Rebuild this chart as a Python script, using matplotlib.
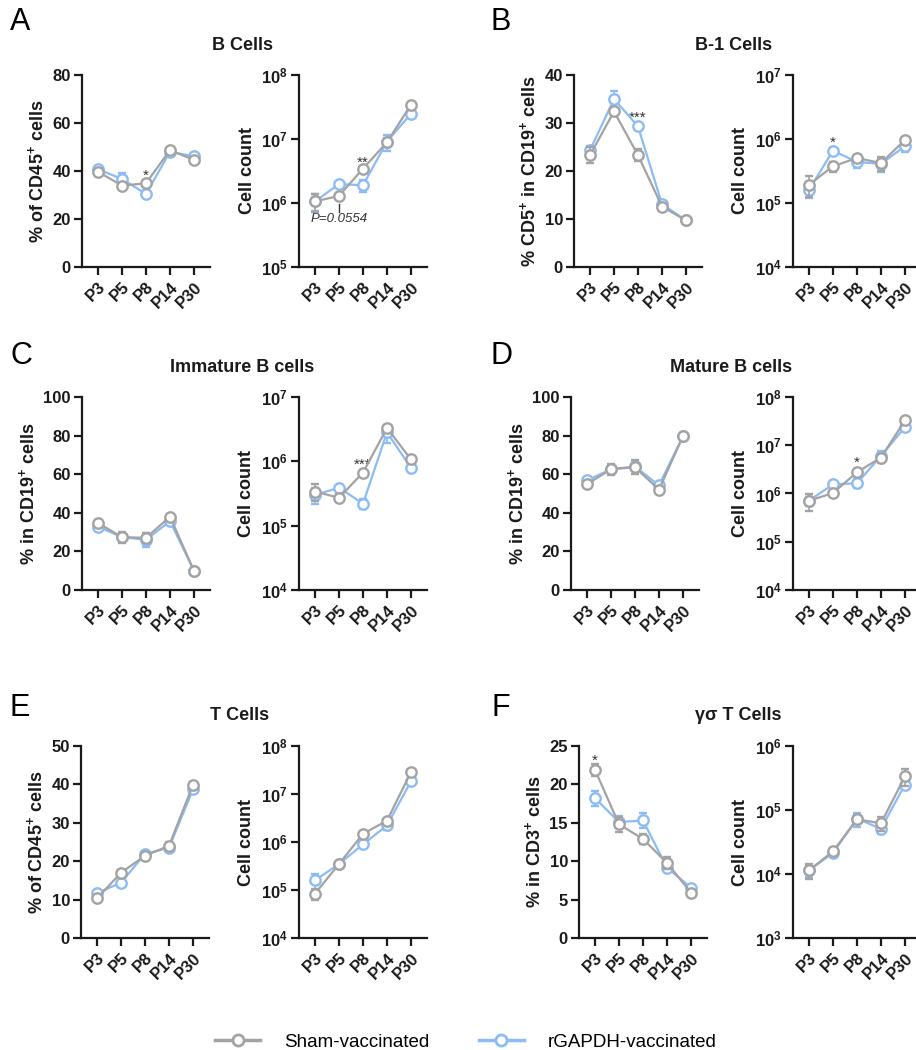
import numpy as np
import matplotlib
matplotlib.use("Agg")
import matplotlib.pyplot as plt
from matplotlib.lines import Line2D
from matplotlib.ticker import NullLocator

plt.rcParams['font.family'] = ['Liberation Sans', 'DejaVu Sans']
plt.rcParams['mathtext.fontset'] = 'custom'
plt.rcParams['mathtext.rm'] = 'Liberation Sans'
plt.rcParams['mathtext.bf'] = 'Liberation Sans:bold'
plt.rcParams['mathtext.it'] = 'Liberation Sans:italic'

days = ['P3', 'P5', 'P8', 'P14', 'P30']

# panel A - B cells
a_pct_sham = [39.7, 33.9, 34.9, 48.7, 44.6]
a_pct_sham_err = [0.8, 0.8, 0.8, 0.8, 0.8]
a_pct_gapdh = [40.7, 36.7, 30.4, 48.0, 46.1]
a_pct_gapdh_err = [0.8, 2.5, 1.8, 1.0, 0.8]
a_cnt_sham = [1.06e6, 1.29e6, 3.44e6, 8.9e6, 3.44e7]
a_cnt_sham_err = [0.34e6, 0.15e6, 0.4e6, 1.5e6, 2e6]
a_cnt_gapdh = [1.06e6, 1.98e6, 1.89e6, 9.1e6, 2.49e7]
a_cnt_gapdh_err = [0.3e6, 0.15e6, 0.4e6, 2.5e6, 1.5e6]

# panel B - B-1 cells
b_pct_sham = [23.3, 32.4, 23.3, 12.6, 9.7]
b_pct_sham_err = [1.6, 0.6, 1.2, 0.4, 0.3]
b_pct_gapdh = [24.3, 35.0, 29.3, 13.1, 9.7]
b_pct_gapdh_err = [0.9, 1.7, 0.5, 0.4, 0.3]
b_cnt_sham = [1.93e5, 3.74e5, 5.05e5, 4.2e5, 9.7e5]
b_cnt_sham_err = [0.7e5, 0.7e5, 0.5e5, 1.0e5, 0.8e5]
b_cnt_gapdh = [1.61e5, 6.58e5, 4.37e5, 4.1e5, 7.7e5]
b_cnt_gapdh_err = [0.4e5, 0.6e5, 0.8e5, 1.0e5, 1.5e5]

# panel C - immature B cells
c_pct_sham = [34.7, 27.4, 27.0, 38.0, 9.9]
c_pct_sham_err = [0.8, 2.8, 2.5, 0.8, 0.4]
c_pct_gapdh = [32.8, 27.4, 26.0, 35.7, 9.9]
c_pct_gapdh_err = [0.8, 1.5, 3.6, 1.0, 0.4]
c_cnt_sham = [3.38e5, 2.72e5, 6.68e5, 3.29e6, 1.07e6]
c_cnt_sham_err = [1.0e5, 0.4e5, 0.6e5, 0.3e6, 0.1e6]
c_cnt_gapdh = [3.0e5, 3.9e5, 2.2e5, 2.82e6, 7.9e5]
c_cnt_gapdh_err = [0.8e5, 0.4e5, 0.4e5, 0.9e6, 0.8e5]

# panel D - mature B cells
d_pct_sham = [54.8, 62.6, 63.6, 52.0, 79.7]
d_pct_sham_err = [0.8, 2.8, 3.5, 0.8, 0.4]
d_pct_gapdh = [56.8, 62.6, 64.0, 54.2, 79.7]
d_pct_gapdh_err = [0.8, 1.5, 2.5, 1.0, 0.4]
d_cnt_sham = [7.1e5, 1.02e6, 2.76e6, 5.56e6, 3.27e7]
d_cnt_sham_err = [2.7e5, 0.1e6, 0.3e6, 0.8e6, 2e6]
d_cnt_gapdh = [7.1e5, 1.55e6, 1.63e6, 6.0e6, 2.38e7]
d_cnt_gapdh_err = [1.5e5, 0.15e6, 0.33e6, 1.7e6, 1.5e6]

# panel E - T cells
e_pct_sham = [10.3, 17.0, 21.4, 24.0, 39.9]
e_pct_sham_err = [0.5, 0.6, 0.5, 1.0, 0.6]
e_pct_gapdh = [11.7, 14.4, 21.9, 23.5, 38.7]
e_pct_gapdh_err = [0.5, 0.6, 0.5, 0.6, 0.6]
e_cnt_sham = [8.4e4, 3.48e5, 1.48e6, 2.78e6, 2.87e7]
e_cnt_sham_err = [2.3e4, 0.3e5, 0.1e6, 0.3e6, 2e6]
e_cnt_gapdh = [1.59e5, 3.48e5, 8.9e5, 2.22e6, 1.84e7]
e_cnt_gapdh_err = [0.6e5, 0.3e5, 1.0e5, 0.47e6, 1.5e6]

# panel F - gamma delta T cells
f_pct_sham = [21.9, 14.8, 12.9, 9.77, 5.9]
f_pct_sham_err = [0.75, 1.0, 0.6, 0.8, 0.3]
f_pct_gapdh = [18.2, 15.1, 15.3, 9.16, 6.55]
f_pct_gapdh_err = [1.0, 0.8, 1.0, 0.5, 0.3]
f_cnt_sham = [1.14e4, 2.26e4, 7.15e4, 6.2e4, 3.36e5]
f_cnt_sham_err = [3.1e3, 3e3, 1.2e4, 1.5e4, 1.0e5]
f_cnt_gapdh = [1.14e4, 2.13e4, 7.3e4, 5.1e4, 2.5e5]
f_cnt_gapdh_err = [2.5e3, 2e3, 1.8e4, 0.9e4, 0.4e5]

GRAY = '#a3a3a3'
BLUE = '#8bbcf5'
TXT = '#1a1a1a'

W, H = 916, 1050
fig = plt.figure(figsize=(W / 100, H / 100), dpi=100)


def px_ax(left, top, bottom, width=128):
    return fig.add_axes([left / W, 1 - bottom / H, width / W, (bottom - top) / H])


def draw(ax, sham, sham_err, gapdh, gapdh_err, log=False, lim=None, ticks=None, ylabel=''):
    x = np.arange(len(days))
    ax.errorbar(x, gapdh, yerr=gapdh_err, color=BLUE, lw=1.6, marker='o', ms=7.5,
                mfc='white', mec=BLUE, mew=1.7, capsize=3, elinewidth=1.2, capthick=1.2, zorder=3)
    ax.errorbar(x, sham, yerr=sham_err, color=GRAY, lw=1.6, marker='o', ms=7.5,
                mfc='white', mec=GRAY, mew=1.7, capsize=3, elinewidth=1.2, capthick=1.2, zorder=4)
    ax.set_xlim(-0.667, 4.667)
    if log:
        ax.set_yscale('log')
        ax.set_ylim(lim)
        ax.set_yticks(ticks)
        ax.set_yticklabels([r'$\mathbf{10^{%d}}$' % round(np.log10(t)) for t in ticks])
        ax.yaxis.set_minor_locator(NullLocator())
    else:
        ax.set_ylim(lim)
        ax.set_yticks(ticks)
        ax.set_yticklabels([str(t) for t in ticks])
    ax.set_xticks(x)
    ax.set_xticklabels(days, rotation=45, ha='right', va='top', rotation_mode='anchor')
    for s in ['top', 'right']:
        ax.spines[s].set_visible(False)
    for s in ['left', 'bottom']:
        ax.spines[s].set_linewidth(1.6)
        ax.spines[s].set_color(TXT)
    ax.tick_params(axis='both', length=6, width=1.6, color=TXT, labelcolor=TXT, labelsize=12)
    ax.tick_params(axis='y', pad=2)
    ax.tick_params(axis='x', pad=3)
    for lbl in ax.get_xticklabels() + ax.get_yticklabels():
        lbl.set_fontweight('bold')
    ax.set_ylabel(ylabel, fontsize=13, fontweight='bold', color=TXT, labelpad=4)


def star(ax, xi, y, s):
    ax.annotate(s, (xi, y), xytext=(0, -3), textcoords='offset points',
                ha='center', va='center', fontsize=11, color='#333333')


rows = [(75, 267), (397, 590), (746, 938)]
lefts = [(82, 299, 574, 793), (82, 299, 571, 793), (81, 299, 579, 793)]

pct_lbl_a = r'% of CD45$^{\mathbf{+}}$ cells'
cnt_lbl = 'Cell count'

# row 1
t, b = rows[0]
ax = px_ax(lefts[0][0], t, b)
draw(ax, a_pct_sham, a_pct_sham_err, a_pct_gapdh, a_pct_gapdh_err, lim=(0, 80), ticks=[0, 20, 40, 60, 80], ylabel=pct_lbl_a)
star(ax, 2, 39.9, '*')
ax = px_ax(lefts[0][1], t, b)
draw(ax, a_cnt_sham, a_cnt_sham_err, a_cnt_gapdh, a_cnt_gapdh_err, log=True, lim=(1e5, 1e8), ticks=[1e5, 1e6, 1e7, 1e8], ylabel=cnt_lbl)
star(ax, 2, 10 ** 6.70, '**')
ax.plot([1, 1], [10 ** 5.854, 10 ** 5.99], color='#333333', lw=1)
ax.text(1, 10 ** 5.75, 'P=0.0554', ha='center', va='center', fontsize=9.5, style='italic', color='#333333')

ax = px_ax(lefts[0][2], t, b)
draw(ax, b_pct_sham, b_pct_sham_err, b_pct_gapdh, b_pct_gapdh_err, lim=(0, 40), ticks=[0, 10, 20, 30, 40],
     ylabel=r'% CD5$^{\mathbf{+}}$ in CD19$^{\mathbf{+}}$ cells')
star(ax, 2, 31.9, '***')
ax = px_ax(lefts[0][3], t, b)
draw(ax, b_cnt_sham, b_cnt_sham_err, b_cnt_gapdh, b_cnt_gapdh_err, log=True, lim=(1e4, 1e7), ticks=[1e4, 1e5, 1e6, 1e7], ylabel=cnt_lbl)
star(ax, 1, 10 ** 6.01, '*')

# row 2
t, b = rows[1]
ax = px_ax(lefts[1][0], t, b)
draw(ax, c_pct_sham, c_pct_sham_err, c_pct_gapdh, c_pct_gapdh_err, lim=(0, 100), ticks=[0, 20, 40, 60, 80, 100],
     ylabel=r'% in CD19$^{\mathbf{+}}$ cells')
ax = px_ax(lefts[1][1], t, b)
draw(ax, c_cnt_sham, c_cnt_sham_err, c_cnt_gapdh, c_cnt_gapdh_err, log=True, lim=(1e4, 1e7), ticks=[1e4, 1e5, 1e6, 1e7], ylabel=cnt_lbl)
star(ax, 2, 10 ** 6.01, '***')

ax = px_ax(lefts[1][2], t, b)
draw(ax, d_pct_sham, d_pct_sham_err, d_pct_gapdh, d_pct_gapdh_err, lim=(0, 100), ticks=[0, 20, 40, 60, 80, 100],
     ylabel=r'% in CD19$^{\mathbf{+}}$ cells')
ax = px_ax(lefts[1][3], t, b)
draw(ax, d_cnt_sham, d_cnt_sham_err, d_cnt_gapdh, d_cnt_gapdh_err, log=True, lim=(1e4, 1e8), ticks=[1e4, 1e5, 1e6, 1e7, 1e8], ylabel=cnt_lbl)
star(ax, 2, 10 ** 6.72, '*')

# row 3
t, b = rows[2]
ax = px_ax(lefts[2][0], t, b)
draw(ax, e_pct_sham, e_pct_sham_err, e_pct_gapdh, e_pct_gapdh_err, lim=(0, 50), ticks=[0, 10, 20, 30, 40, 50], ylabel=pct_lbl_a)
ax = px_ax(lefts[2][1], t, b)
draw(ax, e_cnt_sham, e_cnt_sham_err, e_cnt_gapdh, e_cnt_gapdh_err, log=True, lim=(1e4, 1e8), ticks=[1e4, 1e5, 1e6, 1e7, 1e8], ylabel=cnt_lbl)

ax = px_ax(lefts[2][2], t, b)
draw(ax, f_pct_sham, f_pct_sham_err, f_pct_gapdh, f_pct_gapdh_err, lim=(0, 25), ticks=[0, 5, 10, 15, 20, 25],
     ylabel=r'% in CD3$^{\mathbf{+}}$ cells')
star(ax, 0, 23.65, '*')
ax = px_ax(lefts[2][3], t, b)
draw(ax, f_cnt_sham, f_cnt_sham_err, f_cnt_gapdh, f_cnt_gapdh_err, log=True, lim=(1e3, 1e6), ticks=[1e3, 1e4, 1e5, 1e6], ylabel=cnt_lbl)

# titles and panel letters
titles = [('B Cells', 242, 45), ('B-1 Cells', 734, 45),
          ('Immature B cells', 242, 367), ('Mature B cells', 731, 367),
          ('T Cells', 240, 715), ('\u03b3\u03c3 T Cells', 738, 715)]
for s, x, y in titles:
    fig.text(x / W, 1 - y / H, s, ha='center', va='center', fontsize=13, fontweight='bold', color=TXT)

letters = [('A', 10, 22), ('B', 491, 22), ('C', 10, 356), ('D', 491, 356), ('E', 10, 708), ('F', 492, 708)]
for s, x, y in letters:
    fig.text(x / W, 1 - y / H, s, ha='left', va='center', fontsize=22, color='black')

handles = [Line2D([], [], color=GRAY, lw=2.5, marker='o', ms=8, mfc='white', mec=GRAY, mew=2),
           Line2D([], [], color=BLUE, lw=2.5, marker='o', ms=8, mfc='white', mec=BLUE, mew=2)]
fig.legend(handles, ['Sham-vaccinated', 'rGAPDH-vaccinated'], loc='center', ncol=2,
           bbox_to_anchor=(466 / W, 1 - 1042 / H), frameon=False, fontsize=13.5,
           handlelength=2.4, columnspacing=2.6, handletextpad=1.3)

fig.savefig('out.png', dpi=100)
